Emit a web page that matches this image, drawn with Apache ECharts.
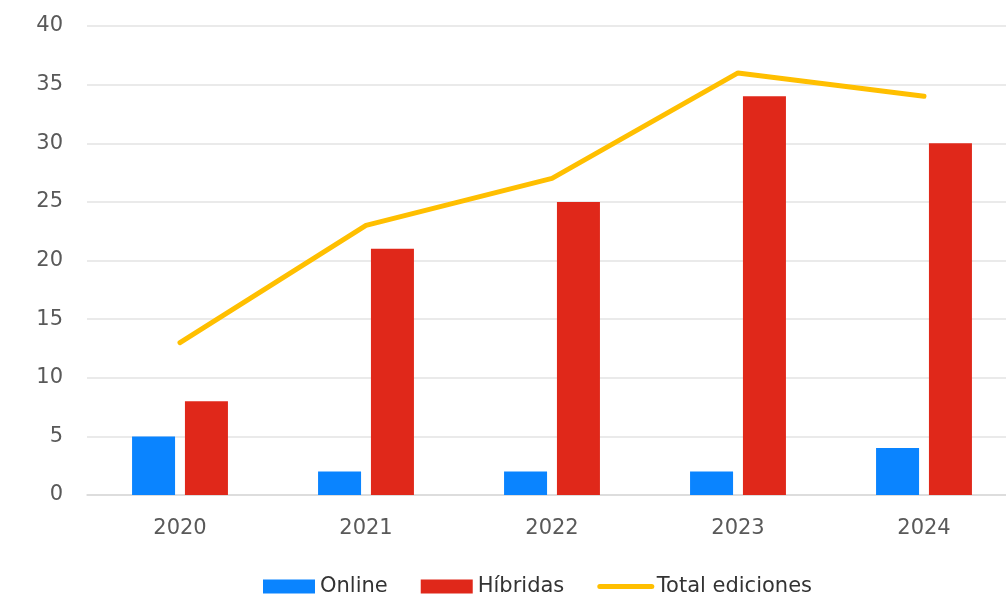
<!DOCTYPE html>
<html>
<head>
<meta charset="utf-8">
<script src="https://cdn.jsdelivr.net/npm/echarts@6/dist/echarts.min.js"></script>
<style>
  html, body { margin: 0; padding: 0; background: #fff; overflow: hidden; }
  /* el área del gráfico se corta por la derecha en el original */
  #chart { width: 1017px; height: 594px; }
</style>
</head>
<body>
<div id="chart"></div>
<script>
// datos
const years = ['2020', '2021', '2022', '2023', '2024']
const online = [5, 2, 2, 2, 4]
const hibridas = [8, 21, 25, 34, 30]
const totalEdiciones = [13, 23, 27, 36, 34]
const yTicks = { min: 0, max: 40, interval: 5 }

const fontFamily = '"DejaVu Sans", sans-serif'

const chart = echarts.init(document.getElementById('chart'))

chart.setOption({
  animation: false,
  textStyle: { fontFamily },
  grid: {
    left: 87,
    right: 0,
    top: 26,
    bottom: 99
  },
  legend: {
    top: 571,
    left: 258,
    itemWidth: 52,
    itemHeight: 14,
    itemGap: 33,
    textStyle: { fontSize: 21, color: '#333333', fontFamily },
    data: [
      { name: 'Online', icon: 'rect' },
      { name: 'Híbridas', icon: 'rect' },
      {
        name: 'Total ediciones',
        itemStyle: { opacity: 0 },
        lineStyle: { width: 5, cap: 'round', color: '#FFBF00' }
      }
    ]
  },
  xAxis: {
    type: 'category',
    data: years,
    axisLine: { show: true, lineStyle: { color: '#d9d9d9', width: 1.5 } },
    axisTick: { show: false },
    axisLabel: { fontSize: 21, color: '#595959', margin: 23 }
  },
  yAxis: {
    type: 'value',
    min: yTicks.min,
    max: yTicks.max,
    interval: yTicks.interval,
    axisLine: { show: false },
    axisTick: { show: false },
    axisLabel: { fontSize: 21, color: '#595959', margin: 24 },
    splitLine: { lineStyle: { color: '#e3e3e3', width: 1.5 } }
  },
  series: [
    {
      name: 'Online',
      type: 'bar',
      data: online,
      barWidth: 43,
      barGap: '23%',
      itemStyle: { color: '#0A84FF' }
    },
    {
      name: 'Híbridas',
      type: 'bar',
      data: hibridas,
      barWidth: 43,
      itemStyle: { color: '#E0281A' }
    },
    {
      name: 'Total ediciones',
      type: 'line',
      data: totalEdiciones,
      symbol: 'none',
      lineStyle: { color: '#FFBF00', width: 5, cap: 'round' },
      itemStyle: { color: '#FFBF00' }
    }
  ]
})
</script>
</body>
</html>
